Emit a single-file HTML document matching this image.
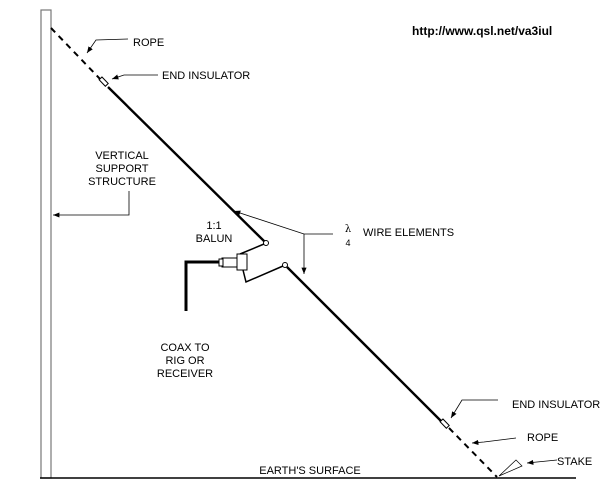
<!DOCTYPE html>
<html><head><style>
body{margin:0;background:#fff;}
svg{display:block;}
text{font-family:"Liberation Sans",Arial,sans-serif;font-size:11px;fill:#000;}
</style></head><body>
<svg width="607" height="491" viewBox="0 0 607 491" xmlns="http://www.w3.org/2000/svg">
<defs>
<marker id="a" viewBox="0 0 10 10" refX="10" refY="5" markerWidth="8" markerHeight="8" orient="auto-start-reverse"><path d="M0,1 L10,5 L0,9 z" fill="#000"/></marker>
</defs>
<rect x="41" y="10" width="10" height="468" fill="#fff" stroke="#777" stroke-width="1.2"/>
<line x1="40" y1="478" x2="576" y2="478" stroke="#000" stroke-width="1.5"/>
<!-- upper wire -->
<line x1="51" y1="28" x2="101" y2="80" stroke="#000" stroke-width="2" stroke-dasharray="6,5"/>
<rect x="99" y="80" width="9" height="4" fill="#fff" stroke="#000" stroke-width="1" transform="rotate(46 104 82)"/>
<line x1="108" y1="87" x2="265" y2="242" stroke="#000" stroke-width="2.4"/>
<circle cx="266" cy="243" r="2.5" fill="#fff" stroke="#000"/>
<polyline points="264,244 240,254" fill="none" stroke="#000" stroke-width="1.5"/>
<!-- lower wire -->
<circle cx="285" cy="265" r="2.5" fill="#fff" stroke="#000"/>
<line x1="287" y1="267" x2="442" y2="422" stroke="#000" stroke-width="2.4"/>
<rect x="440" y="422" width="9" height="4" fill="#fff" stroke="#000" stroke-width="1" transform="rotate(46 445 424)"/>
<line x1="449" y1="428" x2="497" y2="477" stroke="#000" stroke-width="2" stroke-dasharray="6,5"/>
<polyline points="243,270 246,282 283,266" fill="none" stroke="#000" stroke-width="1.5"/>
<!-- balun -->
<rect x="237" y="254" width="10" height="16" fill="#fff" stroke="#000"/>
<rect x="222" y="258" width="15" height="9" fill="#fff" stroke="#000"/>
<rect x="219" y="259" width="4" height="7" fill="#fff" stroke="#000"/>
<polyline points="219,262 186,262 186,311" fill="none" stroke="#000" stroke-width="3"/>
<!-- labels -->
<text x="412" y="35" style="font-weight:bold;font-size:12px">http://www.qsl.net/va3iul</text>
<text x="133" y="46">ROPE</text>
<polyline points="128,39 96,40 87,53" fill="none" stroke="#000" stroke-width="0.8" marker-end="url(#a)"/>
<text x="162" y="79">END INSULATOR</text>
<polyline points="158,75 124,75 112,79" fill="none" stroke="#000" stroke-width="0.8" marker-end="url(#a)"/>
<text x="122" y="159" text-anchor="middle">VERTICAL</text>
<text x="122" y="172" text-anchor="middle">SUPPORT</text>
<text x="122" y="185" text-anchor="middle">STRUCTURE</text>
<polyline points="129,191 129,215 53,215" fill="none" stroke="#000" stroke-width="0.8" marker-end="url(#a)"/>
<text x="214" y="229" text-anchor="middle">1:1</text>
<text x="214" y="242" text-anchor="middle">BALUN</text>
<text x="348" y="232" text-anchor="middle" style="font-family:'DejaVu Serif',serif;font-size:10px">λ</text>
<text x="348" y="246" text-anchor="middle" style="font-size:9px">4</text>
<text x="363" y="236">WIRE ELEMENTS</text>
<polyline points="333,234 304,234 234,211" fill="none" stroke="#000" stroke-width="0.8" marker-end="url(#a)"/>
<line x1="304" y1="234" x2="304" y2="274" stroke="#000" stroke-width="0.8" marker-end="url(#a)"/>
<text x="185" y="351" text-anchor="middle">COAX TO</text>
<text x="185" y="364" text-anchor="middle">RIG OR</text>
<text x="185" y="377" text-anchor="middle">RECEIVER</text>
<text x="512" y="408">END INSULATOR</text>
<polyline points="498,400 462,400 451,418" fill="none" stroke="#000" stroke-width="0.8" marker-end="url(#a)"/>
<text x="527" y="441">ROPE</text>
<polyline points="516,438 484,442 472,443" fill="none" stroke="#000" stroke-width="0.8" marker-end="url(#a)"/>
<text x="557" y="465">STAKE</text>
<polyline points="499,476 516,460 522,466 499,476" fill="none" stroke="#000" stroke-width="0.7"/>
<line x1="557" y1="460" x2="527" y2="463" stroke="#000" stroke-width="0.8" marker-end="url(#a)"/>
<text x="310" y="474" text-anchor="middle">EARTH'S SURFACE</text>
</svg>
</body></html>
